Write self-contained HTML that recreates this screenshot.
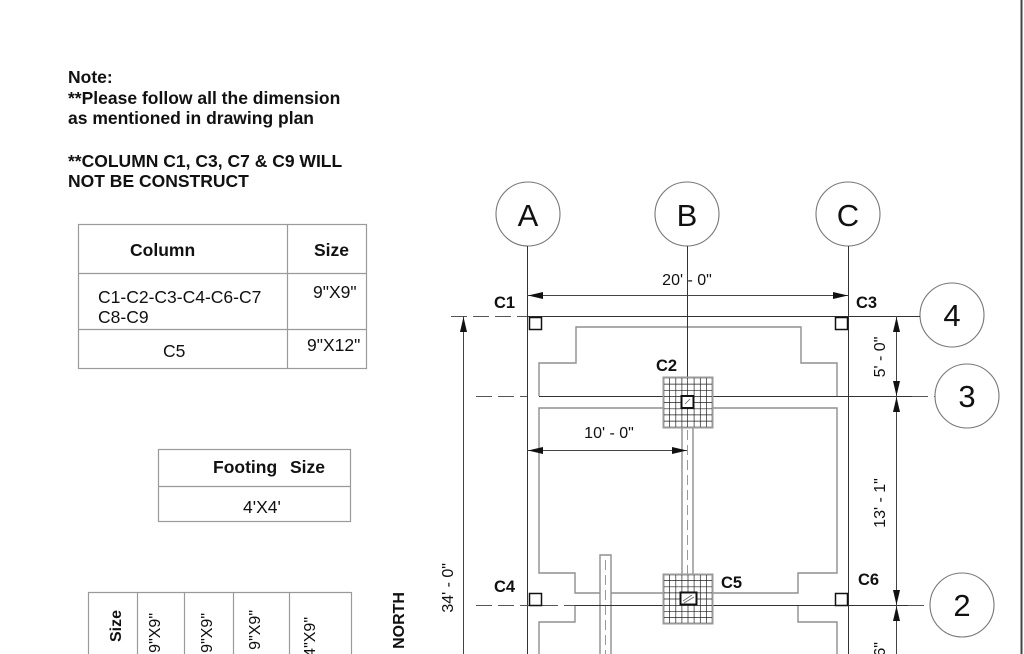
<!DOCTYPE html>
<html><head><meta charset="utf-8"><style>
html,body{margin:0;padding:0;background:#fff;width:1024px;height:654px;overflow:hidden;}
svg{display:block;}
text{font-family:"Liberation Sans",Arial,sans-serif;fill:#111;}
.b{font-weight:bold;}
</style></head><body>
<svg width="1024" height="654" viewBox="0 0 1024 654" xmlns="http://www.w3.org/2000/svg">
<rect x="0" y="0" width="1024" height="654" fill="#fff"/>
<!-- right border -->
<rect x="1020.5" y="0" width="2" height="654" fill="#444"/>

<!-- Notes -->
<g class="b" font-size="17.5">
<text class="b" x="68" y="83">Note:</text>
<text class="b" x="68" y="104">**Please follow all the dimension</text>
<text class="b" x="68" y="124">as mentioned in drawing plan</text>
<text class="b" x="68" y="167">**COLUMN C1, C3, C7 &amp; C9 WILL</text>
<text class="b" x="68" y="187">NOT BE CONSTRUCT</text>
</g>

<!-- Column table -->
<g stroke="#9a9a9a" stroke-width="1.2" fill="none">
<rect x="78.5" y="224.5" width="288" height="144"/>
<line x1="287.5" y1="224" x2="287.5" y2="369"/>
<line x1="78" y1="273.5" x2="367" y2="273.5"/>
<line x1="78" y1="329.5" x2="367" y2="329.5"/>
</g>
<g font-size="17.5">
<text class="b" x="130" y="256">Column</text>
<text class="b" x="314" y="256">Size</text>
<text x="98" y="303">C1-C2-C3-C4-C6-C7</text>
<text x="98" y="323">C8-C9</text>
<text x="313" y="298">9"X9"</text>
<text x="163" y="357">C5</text>
<text x="307" y="351">9"X12"</text>
</g>

<!-- Footing table -->
<g stroke="#9a9a9a" stroke-width="1.2" fill="none">
<rect x="158.5" y="449.5" width="192" height="72"/>
<line x1="158" y1="486.5" x2="351" y2="486.5"/>
</g>
<text class="b" x="213" y="473" font-size="17.5">Footing</text>
<text class="b" x="290" y="473" font-size="17.5">Size</text>
<text x="243" y="513" font-size="17.5">4'X4'</text>

<!-- Rotated bottom table -->
<g stroke="#9a9a9a" stroke-width="1.2" fill="none">
<line x1="88" y1="592.5" x2="351" y2="592.5"/>
<line x1="88.5" y1="592" x2="88.5" y2="654"/>
<line x1="137.5" y1="592" x2="137.5" y2="654"/>
<line x1="184.5" y1="592" x2="184.5" y2="654"/>
<line x1="233.5" y1="592" x2="233.5" y2="654"/>
<line x1="289.5" y1="592" x2="289.5" y2="654"/>
<line x1="351.5" y1="592" x2="351.5" y2="654"/>
</g>
<g font-size="16">
<text class="b" text-anchor="end" transform="translate(121,610) rotate(-90)">Size</text>
<text text-anchor="end" transform="translate(160,613) rotate(-90)">9"X9"</text>
<text text-anchor="end" transform="translate(212,613) rotate(-90)">9"X9"</text>
<text text-anchor="end" transform="translate(260,610) rotate(-90)">9"X9"</text>
<text text-anchor="end" transform="translate(315,617) rotate(-90)">4"X9"</text>
<text class="b" text-anchor="end" transform="translate(404,592) rotate(-90)">NORTH</text>
<text text-anchor="end" transform="translate(453,563) rotate(-90)">34' - 0"</text>
</g>

<!-- Grid circles -->
<g stroke="#777" stroke-width="1.1" fill="#fff">
<circle cx="528" cy="214" r="32"/>
<circle cx="687" cy="214" r="32"/>
<circle cx="848" cy="214" r="32"/>
<circle cx="952" cy="315" r="32"/>
<circle cx="967" cy="396" r="32"/>
<circle cx="962" cy="605" r="32"/>
</g>
<g font-size="31" text-anchor="middle">
<text x="528" y="226">A</text>
<text x="687" y="226">B</text>
<text x="848" y="226">C</text>
<text x="952" y="326">4</text>
<text x="967" y="407">3</text>
<text x="962" y="616">2</text>
</g>

<!-- Structural gray lines -->
<g stroke="#8f8f8f" stroke-width="1.4" fill="none">
<path d="M539,396 V363 H576 V327 H801 V363 H837 V396"/>
<path d="M663,408 H539 V573 H575 V593 H600 M611,593 H663"/>
<path d="M682,428 V574 M693,428 V574"/>
<path d="M712,408 H837 V573 H798 V593 H712"/>
<path d="M600,654 V555 H611 V654"/>
<path d="M539,654 V622 H575 V605 M837,654 V622 H798 V605"/>
</g>
<g stroke="#999" stroke-width="1" stroke-dasharray="10 5" fill="none">
<line x1="605.5" y1="560" x2="605.5" y2="654"/>
<line x1="687.5" y1="430" x2="687.5" y2="574"/>
</g>

<!-- Grid lines -->
<g stroke="#333" stroke-width="1" fill="none">
<line x1="527.5" y1="246" x2="527.5" y2="654"/>
<line x1="848.5" y1="246" x2="848.5" y2="654"/>
<line x1="687.5" y1="246" x2="687.5" y2="378"/>
<line x1="527" y1="316.5" x2="920" y2="316.5"/>
<line x1="539" y1="396.5" x2="912" y2="396.5"/>
<line x1="575" y1="605.5" x2="908" y2="605.5"/>
</g>
<g stroke="#555" stroke-width="1" stroke-dasharray="16 6" fill="none">
<line x1="451" y1="316.5" x2="527" y2="316.5"/>
<line x1="476" y1="396.5" x2="527" y2="396.5"/>
<line x1="912" y1="396.5" x2="935" y2="396.5"/>
<line x1="476" y1="605.5" x2="575" y2="605.5"/>
<line x1="908" y1="605.5" x2="930" y2="605.5"/>
</g>

<!-- Footings -->
<g>
<rect x="663.5" y="377.5" width="49" height="50" fill="#fff" stroke="#999" stroke-width="2"/>
<rect x="663.5" y="574.5" width="49" height="49" fill="#fff" stroke="#999" stroke-width="2"/>
<g stroke="#222" stroke-width="0.7">
<line x1="669.6" y1="378" x2="669.6" y2="427"/><line x1="675.8" y1="378" x2="675.8" y2="427"/><line x1="681.9" y1="378" x2="681.9" y2="427"/><line x1="687.5" y1="378" x2="687.5" y2="427"/><line x1="694.1" y1="378" x2="694.1" y2="427"/><line x1="700.3" y1="378" x2="700.3" y2="427"/><line x1="706.4" y1="378" x2="706.4" y2="427"/>
<line x1="664" y1="384.1" x2="712" y2="384.1"/><line x1="664" y1="390.3" x2="712" y2="390.3"/><line x1="664" y1="396.5" x2="712" y2="396.5"/><line x1="664" y1="402.6" x2="712" y2="402.6"/><line x1="664" y1="408.8" x2="712" y2="408.8"/><line x1="664" y1="414.9" x2="712" y2="414.9"/><line x1="664" y1="421.1" x2="712" y2="421.1"/>
<line x1="669.6" y1="575" x2="669.6" y2="623"/><line x1="675.8" y1="575" x2="675.8" y2="623"/><line x1="681.9" y1="575" x2="681.9" y2="623"/><line x1="688" y1="575" x2="688" y2="623"/><line x1="694.1" y1="575" x2="694.1" y2="623"/><line x1="700.3" y1="575" x2="700.3" y2="623"/><line x1="706.4" y1="575" x2="706.4" y2="623"/>
<line x1="664" y1="580.6" x2="712" y2="580.6"/><line x1="664" y1="586.8" x2="712" y2="586.8"/><line x1="664" y1="592.9" x2="712" y2="592.9"/><line x1="664" y1="599" x2="712" y2="599"/><line x1="664" y1="605.5" x2="712" y2="605.5"/><line x1="664" y1="611.3" x2="712" y2="611.3"/><line x1="664" y1="617.4" x2="712" y2="617.4"/>
</g>
<rect x="681.5" y="396" width="12" height="12" fill="#fff" stroke="#111" stroke-width="2"/>
<path d="M685,404 L690,399" stroke="#666" stroke-width="0.8"/>
<rect x="680.5" y="592.5" width="16" height="12" fill="#fff" stroke="#111" stroke-width="2"/>
<path d="M683,601 L692,595 M684,603 L694,597" stroke="#666" stroke-width="0.8"/>
</g>

<!-- Column squares -->
<g fill="#fff" stroke="#111" stroke-width="1.5">
<rect x="529.5" y="317.5" width="12" height="12"/>
<rect x="835.5" y="317.5" width="12" height="12"/>
<rect x="529.5" y="593.5" width="12" height="12"/>
<rect x="835.5" y="593.5" width="12" height="12"/>
</g>

<!-- Dimension lines -->
<g stroke="#444" stroke-width="1" fill="none">
<line x1="527" y1="295.5" x2="848" y2="295.5"/>
<line x1="527" y1="450.5" x2="687" y2="450.5"/>
<line x1="463.5" y1="316" x2="463.5" y2="654"/>
<line x1="896.5" y1="316" x2="896.5" y2="654"/>
</g>
<g fill="#111">
<polygon points="528,295.5 543,292 543,299"/>
<polygon points="848,295.5 833,292 833,299"/>
<polygon points="528,450.5 543,447 543,454"/>
<polygon points="687,450.5 672,447 672,454"/>
<polygon points="463.5,317 460,332 467,332"/>
<polygon points="896.5,317 893,332 900,332"/>
<polygon points="896.5,396 893,381 900,381"/>
<polygon points="896.5,397 893,412 900,412"/>
<polygon points="896.5,605 893,590 900,590"/>
<polygon points="896.5,606 893,621 900,621"/>
</g>
<g font-size="16">
<text x="687" y="285" text-anchor="middle">20' - 0"</text>
<text x="609" y="438" text-anchor="middle">10' - 0"</text>
<text text-anchor="middle" transform="translate(885,357) rotate(-90)">5' - 0"</text>
<text text-anchor="middle" transform="translate(885,503) rotate(-90)">13' - 1"</text>
<text text-anchor="end" transform="translate(885,642) rotate(-90)">13' - 6"</text>
</g>

<!-- Column labels -->
<g font-size="16.5">
<text class="b" x="494" y="308">C1</text>
<text class="b" x="856" y="308">C3</text>
<text class="b" x="656" y="371">C2</text>
<text class="b" x="494" y="592">C4</text>
<text class="b" x="721" y="588">C5</text>
<text class="b" x="858" y="585">C6</text>
</g>
</svg>
</body></html>
